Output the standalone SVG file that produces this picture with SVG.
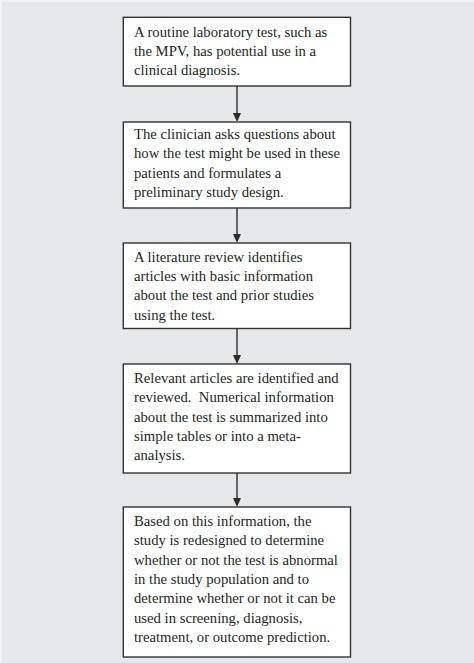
<svg xmlns="http://www.w3.org/2000/svg" width="474" height="663" viewBox="0 0 474 663">
<defs>
<style>
.box{fill:#ffffff;stroke:#333333;stroke-width:1.4}
.t{font-family:"Liberation Serif","Times New Roman",serif;font-size:14.7px;fill:#231f20}
.c{stroke:#2b2b2b;stroke-width:1.4;fill:none}
.h{fill:#2b2b2b}
</style>
</defs>
<rect x="0" y="0" width="474" height="663" fill="#f2f2f3"/>
<rect x="2" y="2" width="472" height="661" fill="#e6e7e8"/>
<g id="connectors">
<line class="c" x1="237" y1="86" x2="237" y2="114"/>
<path class="h" d="M233,113 L241,113 L237,122 Z"/>
<line class="c" x1="237" y1="208" x2="237" y2="235"/>
<path class="h" d="M233,234 L241,234 L237,243 Z"/>
<line class="c" x1="237" y1="328.5" x2="237" y2="356"/>
<path class="h" d="M233,355 L241,355 L237,364 Z"/>
<line class="c" x1="237" y1="473" x2="237" y2="499"/>
<path class="h" d="M233,498 L241,498 L237,507 Z"/>
</g>
<g id="node1">
<rect class="box" x="123.3" y="17.3" width="227.2" height="68.7"/>
<text class="t" x="134" y="36.7">A routine laboratory test, such as</text>
<text class="t" x="134" y="55.7">the MPV, has potential use in a</text>
<text class="t" x="134" y="74.7">clinical diagnosis.</text>
</g>
<g id="node2">
<rect class="box" x="123.3" y="122" width="227.2" height="86"/>
<text class="t" x="134" y="139">The clinician asks questions about</text>
<text class="t" x="134" y="158.3">how the test might be used in these</text>
<text class="t" x="134" y="177.6">patients and formulates a</text>
<text class="t" x="134" y="196.9">preliminary study design.</text>
</g>
<g id="node3">
<rect class="box" x="123.3" y="243" width="227.2" height="85.5"/>
<text class="t" x="134" y="261.7">A literature review identifies</text>
<text class="t" x="134" y="281">articles with basic information</text>
<text class="t" x="134" y="300.3">about the test and prior studies</text>
<text class="t" x="134" y="319.6">using the test.</text>
</g>
<g id="node4">
<rect class="box" x="123.3" y="364" width="227.2" height="109"/>
<text class="t" x="134" y="383">Relevant articles are identified and</text>
<text class="t" x="134" y="402.3" xml:space="preserve">reviewed.  Numerical information</text>
<text class="t" x="134" y="421.6">about the test is summarized into</text>
<text class="t" x="134" y="440.9">simple tables or into a meta-</text>
<text class="t" x="134" y="460.2">analysis.</text>
</g>
<g id="node5">
<rect class="box" x="123.3" y="507" width="227.2" height="150"/>
<text class="t" x="134" y="525.7">Based on this information, the</text>
<text class="t" x="134" y="545.1">study is redesigned to determine</text>
<text class="t" x="134" y="564.5">whether or not the test is abnormal</text>
<text class="t" x="134" y="583.9">in the study population and to</text>
<text class="t" x="134" y="603.3">determine whether or not it can be</text>
<text class="t" x="134" y="622.7">used in screening, diagnosis,</text>
<text class="t" x="134" y="642.1">treatment, or outcome prediction.</text>
</g>
</svg>
